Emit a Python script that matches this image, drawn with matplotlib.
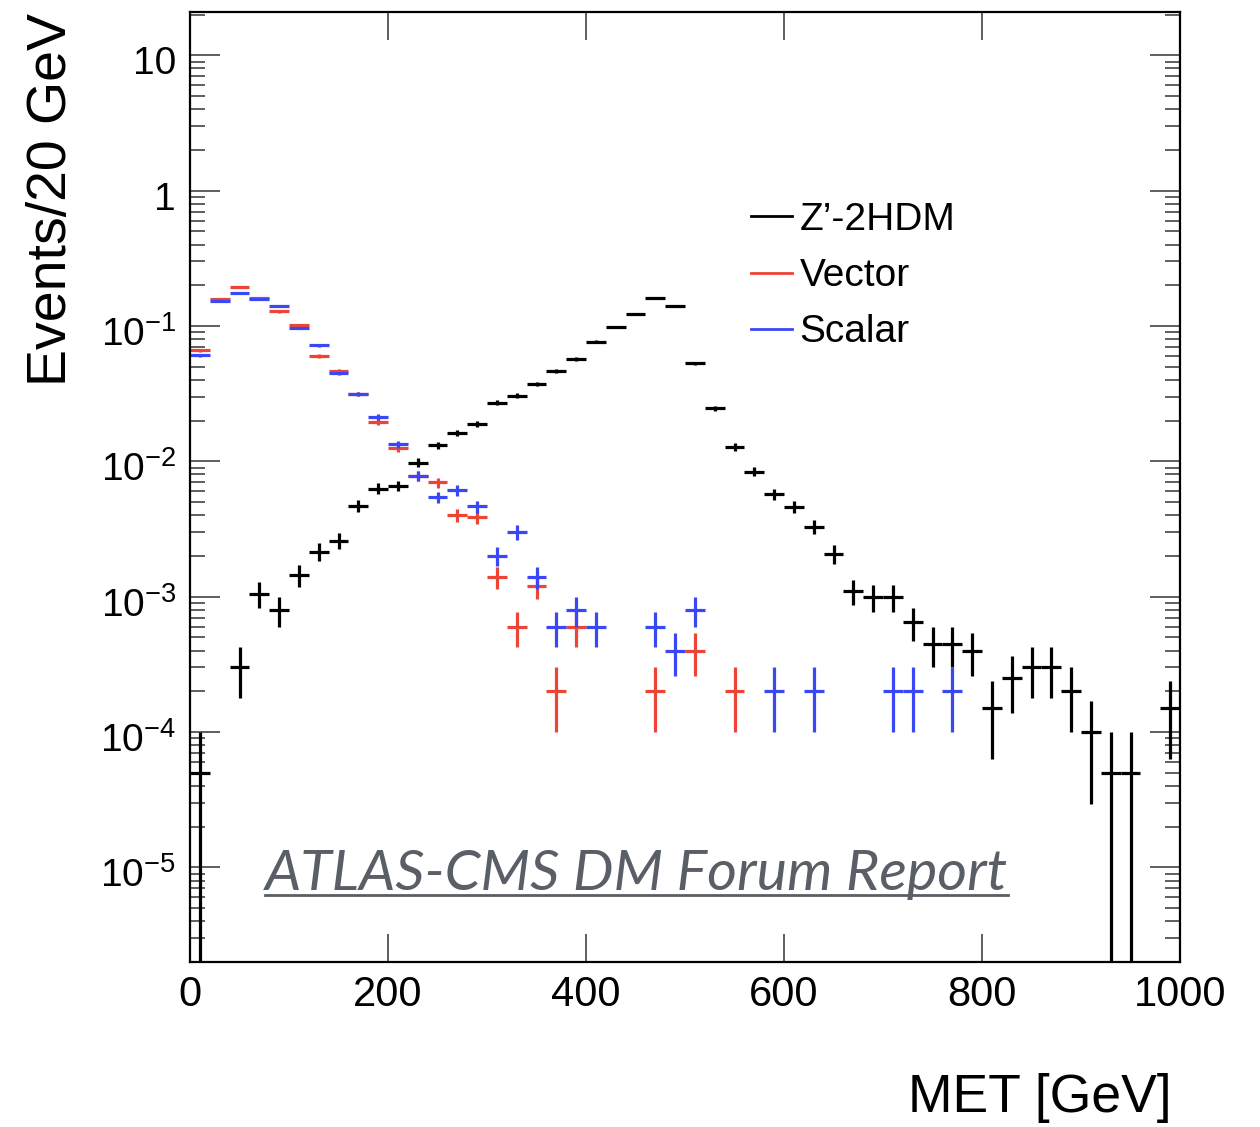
import numpy as np
import matplotlib
matplotlib.use('Agg')
import matplotlib.pyplot as plt
from matplotlib.lines import Line2D
from matplotlib.ticker import FixedLocator, FuncFormatter, LogLocator, NullFormatter, NullLocator
import matplotlib.transforms as mtrans

plt.rcParams['font.family'] = ['Liberation Sans', 'DejaVu Sans']
plt.rcParams['mathtext.fontset'] = 'custom'
plt.rcParams['mathtext.rm'] = 'Liberation Sans'
plt.rcParams['mathtext.it'] = 'Liberation Sans:italic'
plt.rcParams['mathtext.bf'] = 'Liberation Sans:bold'

# 20 GeV bins, 0..1000 GeV; one entry per bin, 0 = empty bin
BIN_WIDTH = 20
BIN_CENTERS = [10 + BIN_WIDTH * i for i in range(50)]
EVENT_WEIGHT = 5e-5   # weight of one MC event (sets the error bars)

zp_2hdm = [5e-5, 0, 3e-4, 1.05e-3, 8e-4, 1.45e-3, 2.15e-3, 2.6e-3, 4.7e-3, 6.3e-3,
           6.6e-3, 9.8e-3, 1.32e-2, 1.62e-2, 1.89e-2, 2.72e-2, 3.05e-2, 3.75e-2, 4.65e-2, 5.73e-2,
           7.65e-2, 9.84e-2, 0.123, 0.162, 0.141, 0.053, 0.0246, 0.0128, 0.0084, 0.0057,
           0.0046, 0.0033, 0.00207, 0.0011, 0.0010, 0.0010, 0.00065, 0.00045, 0.00045, 0.0004,
           0.00015, 0.00025, 0.0003, 0.0003, 0.0002, 0.0001, 5e-5, 5e-5, 0, 0.00015]

vector = [0.066, 0.158, 0.194, 0.160, 0.128, 0.101, 0.060, 0.0465, 0.0314, 0.0196,
          0.01245, 0.0078, 0.0070, 0.0040, 0.0039, 0.0014, 0.0006, 0.0012, 0.0002, 0.0006,
          0, 0, 0, 0.0002, 0, 0.0004, 0, 0.0002, 0, 0,
          0, 0, 0, 0, 0, 0, 0, 0, 0, 0,
          0, 0, 0, 0, 0, 0, 0, 0, 0, 0]

scalar = [0.0607, 0.154, 0.174, 0.158, 0.140, 0.0966, 0.072, 0.0446, 0.0314, 0.0212,
          0.0134, 0.0078, 0.00545, 0.0061, 0.00465, 0.0020, 0.0030, 0.0014, 0.0006, 0.0008,
          0.0006, 0, 0, 0.0006, 0.0004, 0.0008, 0, 0, 0, 0.0002,
          0, 0.0002, 0, 0, 0, 0.0002, 0.0002, 0, 0.0002, 0,
          0, 0, 0, 0, 0, 0, 0, 0, 0, 0]

SERIES = [("Z\u2019-2HDM", zp_2hdm, 'black'),
          ("Vector", vector, '#ec4536'),
          ("Scalar", scalar, '#3a47f5')]

Y_TICKS = [1e-5, 1e-4, 1e-3, 1e-2, 1e-1, 1, 10]

W, H = 1260, 1127
fig = plt.figure(figsize=(W / 100, H / 100), dpi=100)
ax = fig.add_axes([190 / W, 1 - 962 / H, 990 / W, (962 - 11.7) / H])

for name, vals, col in SERIES:
    x = np.array([c for c, v in zip(BIN_CENTERS, vals) if v > 0], float)
    y = np.array([v for v in vals if v > 0], float)
    err = np.sqrt(y * EVENT_WEIGHT)
    lo = y - np.maximum(y - err, 1e-9)
    ax.errorbar(x, y, xerr=BIN_WIDTH / 2, yerr=[lo, err], fmt='none',
                ecolor=col, elinewidth=2.3, capsize=0)

ax.set_yscale('log')
ax.set_xlim(0, 1000)
ax.set_ylim(2.0e-6, 21)

ax.xaxis.set_major_locator(FixedLocator([0, 200, 400, 600, 800, 1000]))
ax.xaxis.set_minor_locator(NullLocator())
ax.yaxis.set_major_locator(FixedLocator(Y_TICKS))
ax.yaxis.set_minor_locator(LogLocator(base=10, subs=np.arange(2, 10), numticks=20))
ax.yaxis.set_minor_formatter(NullFormatter())


def ylab(v, pos):
    e = int(round(np.log10(v)))
    if e == 1:
        return '10'
    if e == 0:
        return '1'
    return r'$10^{%d}$' % e


ax.yaxis.set_major_formatter(FuncFormatter(ylab))

ax.tick_params(which='both', direction='in', top=True, right=True, color='#333333')
ax.tick_params(axis='x', which='major', length=20, width=1.1, labelsize=30, pad=9)
ax.tick_params(axis='y', which='major', length=21.5, width=1.1, labelsize=28, pad=10)
ax.tick_params(axis='y', which='minor', length=11, width=1.1)
for s in ax.spines.values():
    s.set_linewidth(1.6)

off = mtrans.ScaledTranslation(0, -5 / 100, fig.dpi_scale_trans)
for lbl in ax.get_yticklabels():
    lbl.set_transform(lbl.get_transform() + off)

fig.text(1172 / W, 1 - 1112 / H, 'MET [GeV]', ha='right', va='baseline', fontsize=38.5)
fig.text(52 / W, 1 - 13 / H, 'Events/20 GeV', rotation=90, ha='center', va='top',
         fontsize=40)

handles = [Line2D([], [], color=c, lw=2.0) for _, _, c in SERIES]
ax.legend(handles, [n for n, _, _ in SERIES], loc='upper left',
          bbox_to_anchor=(751 / W, 1 - 202 / H), bbox_transform=fig.transFigure,
          frameon=False, fontsize=28, handlelength=1.05, handletextpad=0.2,
          labelspacing=0.52, borderpad=0, borderaxespad=0)

# watermark, fitted to the reference width
wm_col = '#5a5f67'
wm = fig.text(265 / W, 1 - 890 / H, 'ATLAS-CMS DM Forum Report', ha='left', va='baseline',
              fontsize=44, family=['Lato', 'DejaVu Sans'], style='italic',
              fontweight='normal', color=wm_col)
r = fig.canvas.get_renderer()
bb = wm.get_window_extent(r)
wm.set_fontsize(44 * 743 / bb.width)
bb = wm.get_window_extent(r)
fig.add_artist(Line2D([bb.x0 / W, bb.x1 / W], [1 - 895 / H] * 2, color=wm_col, lw=2.0,
                      transform=fig.transFigure))

fig.savefig('out.png', dpi=100)
